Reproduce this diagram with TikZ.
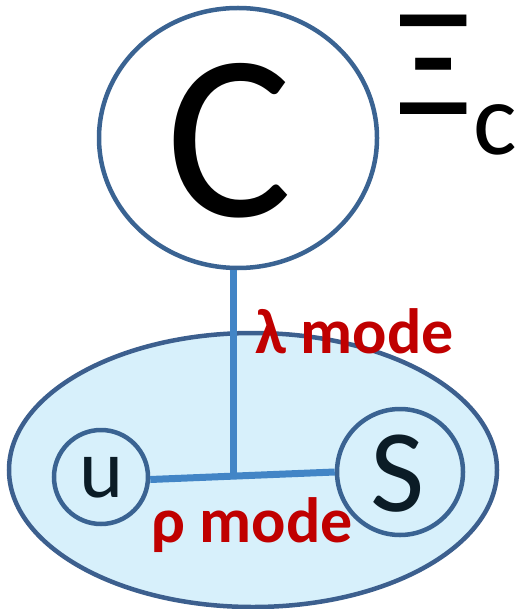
\documentclass[tikz,border=0pt]{standalone}
\usepackage{fontspec}
\setmainfont{Carlito}
\usetikzlibrary{shapes.geometric}
\definecolor{ringc}{HTML}{3A6392}
\definecolor{ellc}{HTML}{3C5F8E}
\definecolor{linkc}{HTML}{4285C6}
\definecolor{fillc}{HTML}{D7F0FB}
\definecolor{redc}{HTML}{C00000}
\definecolor{inkc}{HTML}{0B1C26}
\tikzset{
  ring/.style={draw=ringc, line width=4.5pt, circle, inner sep=0pt},
  link/.style={draw=linkc, line width=7pt},
  modelabel/.style={text=redc, font=\bfseries\fontsize{64}{64}\selectfont, inner sep=0pt, anchor=base west},
  letter/.style={inner sep=0pt, anchor=base}
}
\begin{document}
\begin{tikzpicture}[x=1pt,y=-1pt]
\useasboundingbox (0,0) rectangle (520,609);
% baryon ellipse
\node[ellipse, draw=ellc, fill=fillc, line width=4.5pt, minimum width=488pt, minimum height=274pt, inner sep=0pt] (diq) at (253,470) {};
% rings
\node[ellipse, draw=ringc, line width=4.5pt, minimum width=278pt, minimum height=260pt, inner sep=0pt] (bigC) at (238,138) {};
\node[ring, minimum size=94pt] (u) at (101,477) {};
\node[ring, minimum size=126pt] (S) at (400,472) {};
% connectors
\coordinate (junc) at (233,473);
\draw[link] (junc |- bigC.south) -- (junc);
\draw[link] ([yshift=-2.5pt]u.east) -- (S.west);
% letters
\node[letter, font=\fontsize{236}{236}\selectfont] (tC) at (229,217) {C};
\node[letter, text=inkc, font=\fontsize{84}{84}\selectfont] (tu) at (102,497) {u};
\node[letter, text=inkc, font=\fontsize{118}{118}\selectfont] (tS) at (398,511) {S};
\node[letter, font=\fontsize{155}{155}\selectfont] (xi) at (434,115) {Ξ};
\node[inner sep=0pt, anchor=base west, font=\fontsize{103}{103}\selectfont] (xic) at (473,155) {c};
% mode labels
\node[modelabel] (lam) at (255,353) {λ mode};
\node[modelabel] (rho) at (151,542) {ρ mode};
\end{tikzpicture}
\end{document}
